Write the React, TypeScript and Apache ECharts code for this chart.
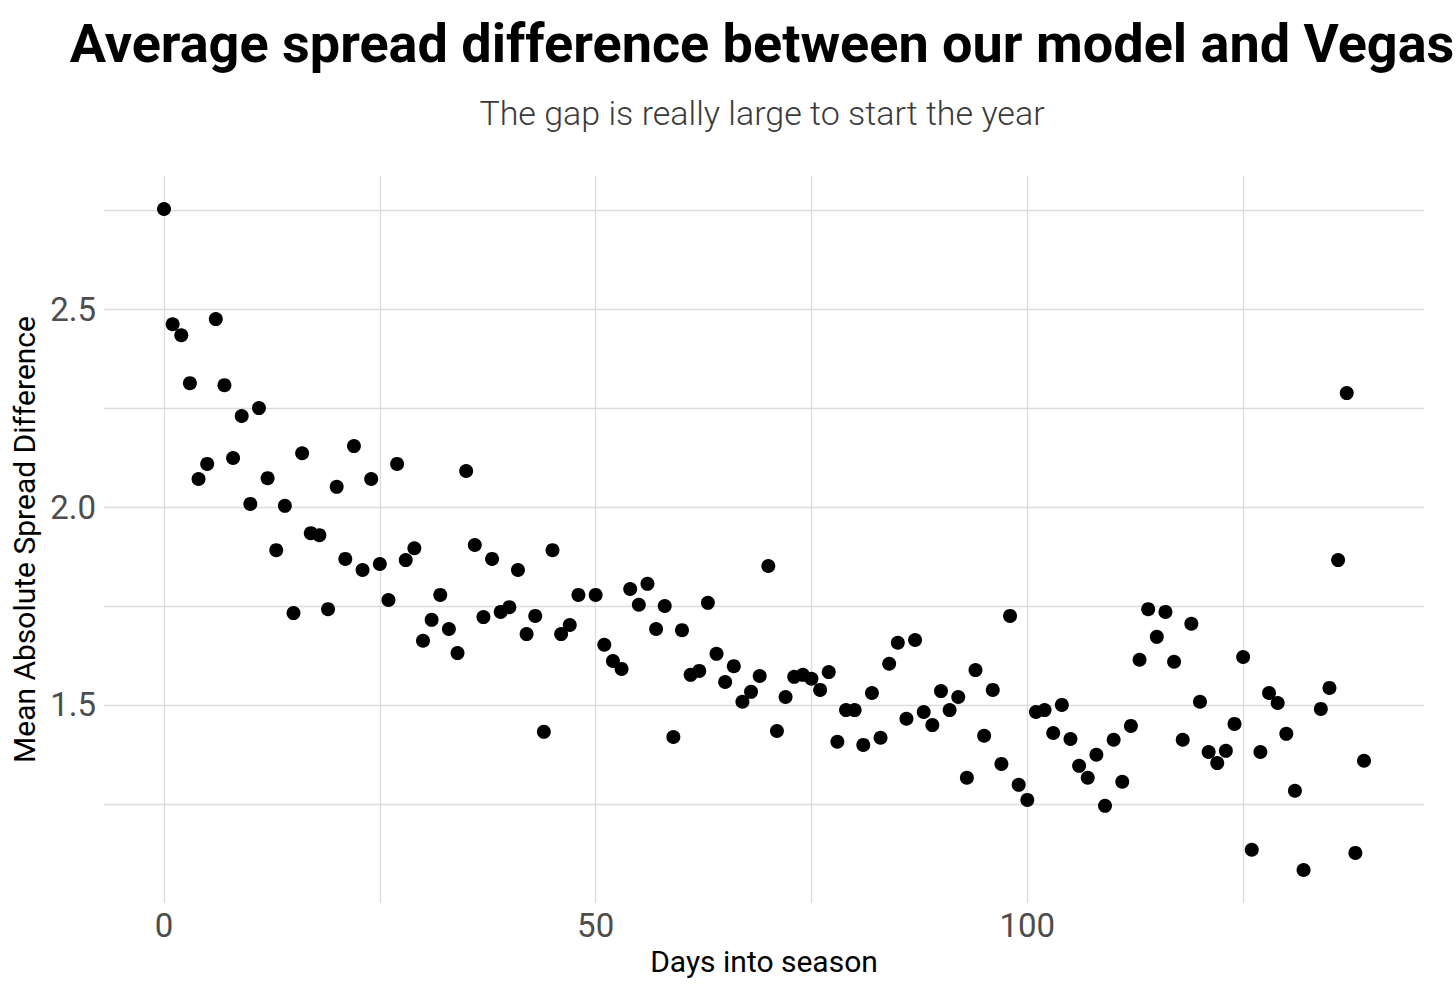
import React, { useEffect, useRef } from "react";
import * as echarts from "echarts";

const TITLE = "Average spread difference between our model and Vegas";
const SUBTITLE = "The gap is really large to start the year";
const X_NAME = "Days into season";
const Y_NAME = "Mean Absolute Spread Difference";

const days = [
  0, 1, 2, 3, 4, 5, 6, 7, 8, 9, 10, 11, 12, 13, 14, 15, 16, 17, 18, 19,
  20, 21, 22, 23, 24, 25, 26, 27, 28, 29, 30, 31, 32, 33, 34, 35, 36, 37, 38, 39,
  40, 41, 42, 43, 44, 45, 46, 47, 48, 50, 51, 52, 53, 54, 55, 56, 57, 58, 59,
  60, 61, 62, 63, 64, 65, 66, 67, 68, 69, 70, 71, 72, 73, 74, 75, 76, 77, 78, 79,
  80, 81, 82, 83, 84, 85, 86, 87, 88, 89, 90, 91, 92, 93, 94, 95, 96, 97, 98, 99,
  100, 101, 102, 103, 104, 105, 106, 107, 108, 109, 110, 111, 112, 113, 114, 115, 116, 117, 118, 119,
  120, 121, 122, 123, 124, 125, 126, 127, 128, 129, 130, 131, 132, 134, 135, 136, 137, 138, 139,
];

const meanDiff = [
  2.753, 2.462, 2.434, 2.313, 2.071, 2.109, 2.475, 2.308, 2.124, 2.23, 2.008, 2.25, 2.073, 1.891, 2.003, 1.732, 2.136, 1.934, 1.929, 1.742,
  2.051, 1.869, 2.154, 1.841, 2.071, 1.856, 1.765, 2.109, 1.866, 1.896, 1.662, 1.715, 1.778, 1.692, 1.631, 2.091, 1.904, 1.722, 1.869, 1.735,
  1.747, 1.841, 1.679, 1.725, 1.432, 1.891, 1.679, 1.702, 1.778, 1.778, 1.652, 1.611, 1.591, 1.793, 1.753, 1.806, 1.692, 1.75, 1.419,
  1.689, 1.576, 1.586, 1.758, 1.629, 1.558, 1.598, 1.508, 1.533, 1.573, 1.851, 1.434, 1.52, 1.571, 1.576, 1.566, 1.538, 1.583, 1.407, 1.487,
  1.487, 1.399, 1.53, 1.417, 1.604, 1.657, 1.465, 1.664, 1.482, 1.449, 1.535, 1.487, 1.52, 1.316, 1.588, 1.422, 1.538, 1.351, 1.725, 1.298,
  1.26, 1.482, 1.487, 1.429, 1.5, 1.414, 1.346, 1.316, 1.374, 1.245, 1.412, 1.306, 1.447, 1.614, 1.742, 1.672, 1.735, 1.609, 1.412, 1.705,
  1.508, 1.381, 1.353, 1.384, 1.452, 1.621, 1.134, 1.381, 1.53, 1.505, 1.427, 1.283, 1.083, 1.49, 1.543, 1.866, 2.288, 1.126, 1.359,
];

const xTickLabels = [0, 50, 100];
const yTickLabels = [1.5, 2.0, 2.5];
const xGridLines = [0, 25, 50, 75, 100, 125];
const yGridLines = [1.25, 1.5, 1.75, 2.0, 2.25, 2.5, 2.75];

const X_MIN = -6.95;
const X_MAX = 145.95;
const Y_MIN = 0.9995;
const Y_MAX = 2.8365;

const FONT = "Roboto";

export default function App() {
  const ref = useRef<HTMLDivElement>(null);

  useEffect(() => {
    if (!ref.current) return;
    const chart = echarts.init(ref.current, null, { renderer: "svg" });
    const points = days.map((d, i) => [d, meanDiff[i]]);
    const gridStyle = { color: "#dcdcdc", width: 1.3, type: "solid" as const };

    chart.setOption({
      animation: false,
      backgroundColor: "#ffffff",
      textStyle: { fontFamily: FONT },
      graphic: [
        {
          type: "text",
          x: 762,
          y: 43,
          style: {
            text: TITLE,
            fontFamily: FONT,
            fontWeight: 700,
            fontSize: 54,
            fill: "#000000",
            textAlign: "center",
            textVerticalAlign: "middle",
          },
        },
        {
          type: "text",
          x: 762,
          y: 113,
          style: {
            text: SUBTITLE,
            fontFamily: FONT,
            fontWeight: 300,
            fontSize: 34,
            fill: "#3a3a3a",
            textAlign: "center",
            textVerticalAlign: "middle",
          },
        },
      ],
      grid: { left: 104, right: 32, top: 176, bottom: 90, containLabel: false },
      xAxis: {
        type: "value",
        min: X_MIN,
        max: X_MAX,
        name: X_NAME,
        nameLocation: "middle",
        nameGap: 41,
        nameTextStyle: { fontFamily: FONT, fontSize: 30, color: "#000000" },
        axisLine: { show: false },
        axisTick: { show: false },
        splitLine: { show: false },
        axisLabel: {
          customValues: xTickLabels,
          fontFamily: FONT,
          fontSize: 33,
          color: "#4d4d4d",
          margin: 6,
          formatter: (v: number) => String(v),
        },
      },
      yAxis: {
        type: "value",
        min: Y_MIN,
        max: Y_MAX,
        name: Y_NAME,
        nameLocation: "middle",
        nameGap: 65,
        nameTextStyle: { fontFamily: FONT, fontSize: 30, color: "#000000" },
        axisLine: { show: false },
        axisTick: { show: false },
        splitLine: { show: false },
        axisLabel: {
          customValues: yTickLabels,
          fontFamily: FONT,
          fontSize: 33,
          color: "#4d4d4d",
          margin: 8,
          formatter: (v: number) => v.toFixed(1),
        },
      },
      series: [
        {
          type: "scatter",
          data: [],
          z: 0,
          silent: true,
          markLine: {
            silent: true,
            symbol: "none",
            label: { show: false },
            lineStyle: gridStyle,
            data: [
              ...xGridLines.map((v) => ({ xAxis: v })),
              ...yGridLines.map((v) => ({ yAxis: v })),
            ],
          },
        },
        {
          type: "scatter",
          data: points,
          z: 5,
          symbol: "circle",
          symbolSize: 14,
          itemStyle: { color: "#000000", opacity: 1 },
        },
      ],
    });

    return () => chart.dispose();
  }, []);

  return (
    <div
      ref={ref}
      style={{ position: "absolute", left: 0, top: 0, width: 1456, height: 993 }}
    />
  );
}
